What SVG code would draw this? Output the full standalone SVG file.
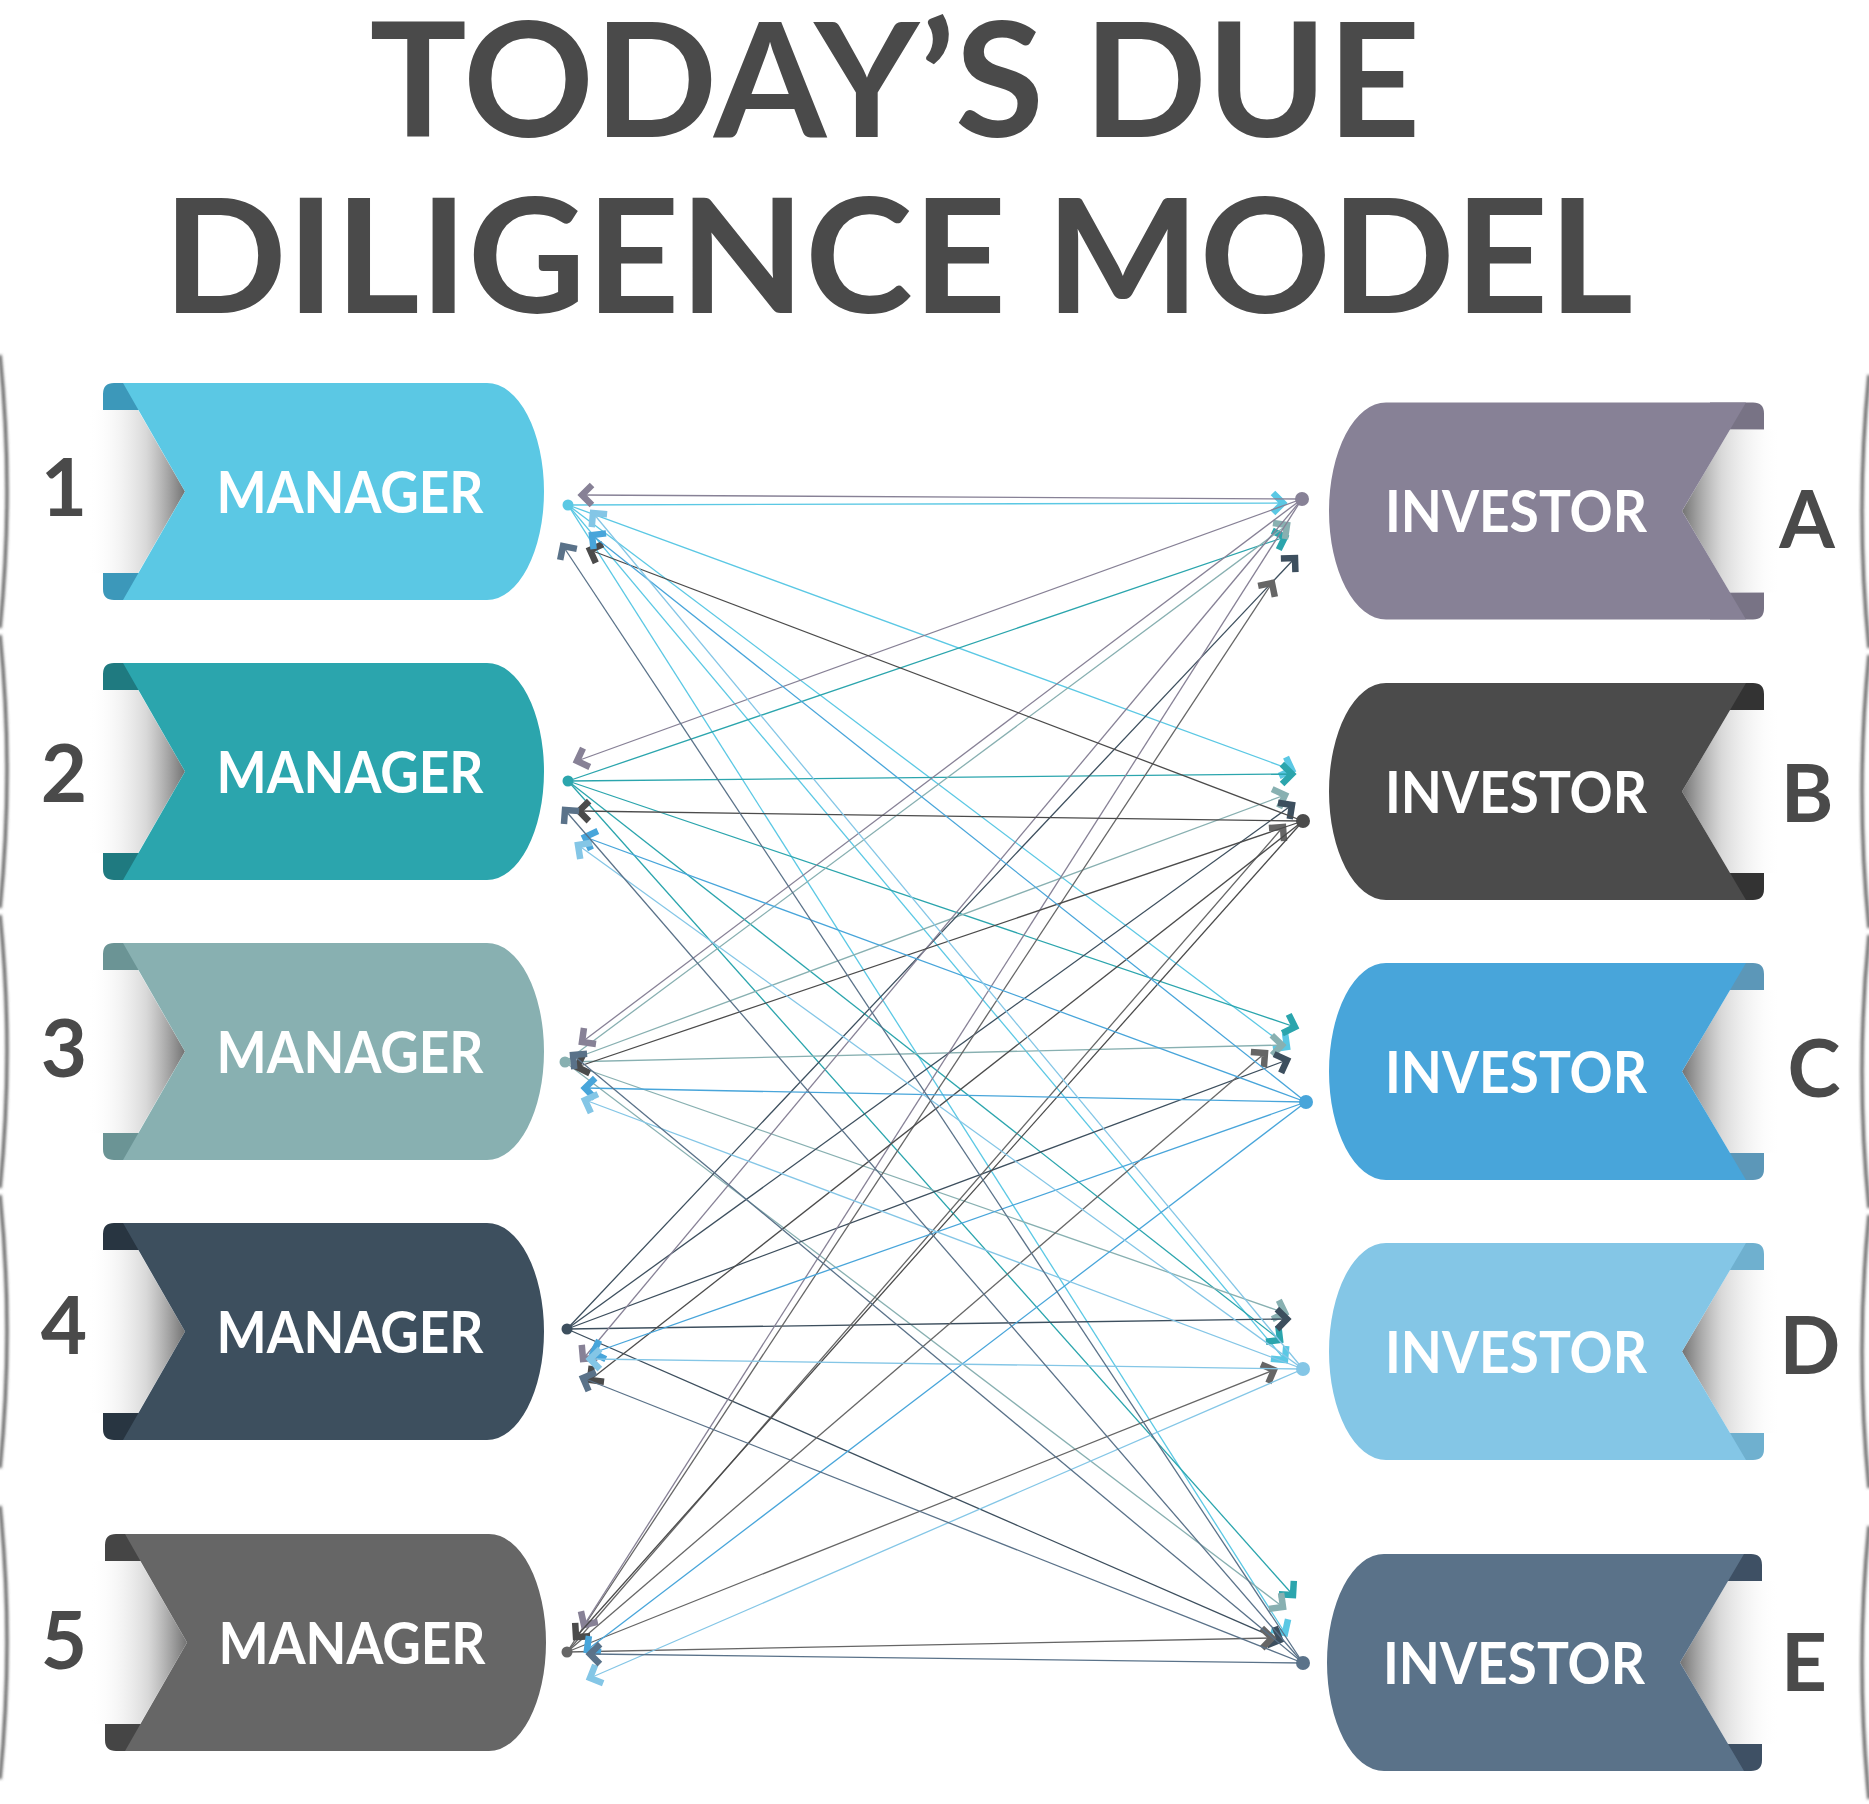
<svg xmlns="http://www.w3.org/2000/svg" width="1869" height="1804" viewBox="0 0 1869 1804">
<style>
.ttl{font-family:Lato,"Liberation Sans",sans-serif;font-weight:700;font-size:160px;fill:#4a4a4a;text-anchor:middle}
.lbl{font-family:Lato,"Liberation Sans",sans-serif;font-weight:700;font-size:80px;fill:#4a4a4a;text-anchor:middle}
.nt{font-family:Lato,"Liberation Sans",sans-serif;font-weight:700;font-size:58px;fill:#ffffff;text-anchor:middle}
.edge{fill:none;stroke:#555;stroke-width:3;filter:url(#blur)}
line{fill:none;stroke-width:1.3}
.c1{stroke:#5bc8e4;marker-end:url(#k1)}
.c2{stroke:#2ba5ad;marker-end:url(#k2)}
.c3{stroke:#88b0b1;marker-end:url(#k3)}
.c4{stroke:#3d4f5e;marker-end:url(#k4)}
.c5{stroke:#666666;marker-end:url(#k5)}
.cA{stroke:#878196;marker-end:url(#kA)}
.cB{stroke:#4b4b4b;marker-end:url(#kB)}
.cC{stroke:#48a5da;marker-end:url(#kC)}
.cD{stroke:#84c6e6;marker-end:url(#kD)}
.cE{stroke:#5a7289;marker-end:url(#kE)}
.chev{fill:none;stroke-width:6.5;stroke-linejoin:miter}
</style>
<defs>
<filter id="blur" x="-50%" y="-10%" width="200%" height="120%"><feGaussianBlur stdDeviation="1.5"/></filter>
<linearGradient id="shL" gradientUnits="userSpaceOnUse" x1="88" y1="0" x2="185" y2="0">
<stop offset="0" stop-color="#ffffff" stop-opacity="0"/>
<stop offset="0.6" stop-color="#c8c8c8" stop-opacity="0.7"/>
<stop offset="1" stop-color="#727272" stop-opacity="1"/>
</linearGradient>
<linearGradient id="shR" gradientUnits="userSpaceOnUse" x1="1781" y1="0" x2="1682" y2="0">
<stop offset="0" stop-color="#ffffff" stop-opacity="0"/>
<stop offset="0.6" stop-color="#c8c8c8" stop-opacity="0.7"/>
<stop offset="1" stop-color="#727272" stop-opacity="1"/>
</linearGradient>
<marker id="k1" markerUnits="userSpaceOnUse" orient="auto" markerWidth="40" markerHeight="40" viewBox="-20 -20 40 40" refX="0" refY="0"><path class="chev" stroke="#5bc8e4" d="M-10,-10 L0,0 L-10,10"/></marker>
<marker id="k2" markerUnits="userSpaceOnUse" orient="auto" markerWidth="40" markerHeight="40" viewBox="-20 -20 40 40" refX="0" refY="0"><path class="chev" stroke="#2ba5ad" d="M-10,-10 L0,0 L-10,10"/></marker>
<marker id="k3" markerUnits="userSpaceOnUse" orient="auto" markerWidth="40" markerHeight="40" viewBox="-20 -20 40 40" refX="0" refY="0"><path class="chev" stroke="#88b0b1" d="M-10,-10 L0,0 L-10,10"/></marker>
<marker id="k4" markerUnits="userSpaceOnUse" orient="auto" markerWidth="40" markerHeight="40" viewBox="-20 -20 40 40" refX="0" refY="0"><path class="chev" stroke="#3d4f5e" d="M-10,-10 L0,0 L-10,10"/></marker>
<marker id="k5" markerUnits="userSpaceOnUse" orient="auto" markerWidth="40" markerHeight="40" viewBox="-20 -20 40 40" refX="0" refY="0"><path class="chev" stroke="#666666" d="M-10,-10 L0,0 L-10,10"/></marker>
<marker id="kA" markerUnits="userSpaceOnUse" orient="auto" markerWidth="40" markerHeight="40" viewBox="-20 -20 40 40" refX="0" refY="0"><path class="chev" stroke="#878196" d="M-10,-10 L0,0 L-10,10"/></marker>
<marker id="kB" markerUnits="userSpaceOnUse" orient="auto" markerWidth="40" markerHeight="40" viewBox="-20 -20 40 40" refX="0" refY="0"><path class="chev" stroke="#4b4b4b" d="M-10,-10 L0,0 L-10,10"/></marker>
<marker id="kC" markerUnits="userSpaceOnUse" orient="auto" markerWidth="40" markerHeight="40" viewBox="-20 -20 40 40" refX="0" refY="0"><path class="chev" stroke="#48a5da" d="M-10,-10 L0,0 L-10,10"/></marker>
<marker id="kD" markerUnits="userSpaceOnUse" orient="auto" markerWidth="40" markerHeight="40" viewBox="-20 -20 40 40" refX="0" refY="0"><path class="chev" stroke="#84c6e6" d="M-10,-10 L0,0 L-10,10"/></marker>
<marker id="kE" markerUnits="userSpaceOnUse" orient="auto" markerWidth="40" markerHeight="40" viewBox="-20 -20 40 40" refX="0" refY="0"><path class="chev" stroke="#5a7289" d="M-10,-10 L0,0 L-10,10"/></marker>
<path id="mTabs" d="M145,-108.5 H114 Q103,-108.5 103,-97.5 V-81.5 H145 Z M145,108.5 H114 Q103,108.5 103,97.5 V81.5 H145 Z"/>
<polygon id="mShadow" points="88,-81.5 138,-81.5 185,0 138,81.5 88,81.5"/>
<path id="mBody" d="M123,-108.5 H487 A57,108.5 0 0 1 487,108.5 H123 L185,0 Z"/>
<path id="iTabs" d="M1710,-108.5 H1753 Q1764,-108.5 1764,-97.5 V-81.5 H1710 Z M1710,108.5 H1753 Q1764,108.5 1764,97.5 V81.5 H1710 Z"/>
<polygon id="iShadow" points="1781,-81.5 1730,-81.5 1682,0 1730,81.5 1781,81.5"/>
<path id="iBody" d="M1386,-108.5 H1746 L1682,0 L1746,108.5 H1386 A57,108.5 0 0 1 1386,-108.5 Z"/>
</defs>
<rect width="1869" height="1804" fill="#ffffff"/>

<g id="title">
<text class="ttl" x="895" y="137" textLength="1051" lengthAdjust="spacingAndGlyphs">TODAY’S DUE</text>
<text class="ttl" x="898" y="313" textLength="1470" lengthAdjust="spacingAndGlyphs">DILIGENCE MODEL</text>
</g>

<g id="edges">
<path class="edge" d="M0,355 Q14,491 0,628"/>
<path class="edge" d="M0,635 Q14,771 0,908"/>
<path class="edge" d="M0,915 Q14,1051 0,1188"/>
<path class="edge" d="M0,1195 Q14,1331 0,1468"/>
<path class="edge" d="M0,1506 Q14,1642 0,1779"/>
<path class="edge" d="M1869,375 Q1855,511 1869,648"/>
<path class="edge" d="M1869,655 Q1855,791 1869,928"/>
<path class="edge" d="M1869,935 Q1855,1071 1869,1208"/>
<path class="edge" d="M1869,1215 Q1855,1351 1869,1488"/>
<path class="edge" d="M1869,1526 Q1855,1662 1869,1799"/>
</g>

<g id="manager-1" transform="translate(0,491.5)">
<use href="#mTabs" fill="#3c98ba"/><use href="#mShadow" fill="url(#shL)"/><use href="#mBody" fill="#5bc8e4"/>
<text class="nt" x="350" y="21" textLength="267" lengthAdjust="spacingAndGlyphs">MANAGER</text>
<text class="lbl" x="64" y="24">1</text>
</g>
<g id="manager-2" transform="translate(0,771.5)">
<use href="#mTabs" fill="#1f7a80"/><use href="#mShadow" fill="url(#shL)"/><use href="#mBody" fill="#2ba5ad"/>
<text class="nt" x="350" y="21" textLength="267" lengthAdjust="spacingAndGlyphs">MANAGER</text>
<text class="lbl" x="64" y="30">2</text>
</g>
<g id="manager-3" transform="translate(0,1051.5)">
<use href="#mTabs" fill="#6b9495"/><use href="#mShadow" fill="url(#shL)"/><use href="#mBody" fill="#88b0b1"/>
<text class="nt" x="350" y="21" textLength="267" lengthAdjust="spacingAndGlyphs">MANAGER</text>
<text class="lbl" x="64" y="25">3</text>
</g>
<g id="manager-4" transform="translate(0,1331.5)">
<use href="#mTabs" fill="#283541"/><use href="#mShadow" fill="url(#shL)"/><use href="#mBody" fill="#3d4f5e"/>
<text class="nt" x="350" y="21" textLength="267" lengthAdjust="spacingAndGlyphs">MANAGER</text>
<text class="lbl" x="64" y="22">4</text>
</g>
<g id="manager-5" transform="translate(2,1642.5)">
<use href="#mTabs" fill="#454545"/><use href="#mShadow" fill="url(#shL)"/><use href="#mBody" fill="#666666"/>
<text class="nt" x="350" y="21" textLength="267" lengthAdjust="spacingAndGlyphs">MANAGER</text>
<text class="lbl" x="62" y="26">5</text>
</g>

<g id="investor-a" transform="translate(0,511)">
<use href="#iTabs" fill="#787385"/><use href="#iShadow" fill="url(#shR)"/><use href="#iBody" fill="#878196"/>
<text class="nt" x="1516" y="21" textLength="262" lengthAdjust="spacingAndGlyphs">INVESTOR</text>
<text class="lbl" x="1807" y="37">A</text>
</g>
<g id="investor-b" transform="translate(0,791.5)">
<use href="#iTabs" fill="#333333"/><use href="#iShadow" fill="url(#shR)"/><use href="#iBody" fill="#4b4b4b"/>
<text class="nt" x="1516" y="21" textLength="262" lengthAdjust="spacingAndGlyphs">INVESTOR</text>
<text class="lbl" x="1807" y="30">B</text>
</g>
<g id="investor-c" transform="translate(0,1071.5)">
<use href="#iTabs" fill="#5c97b8"/><use href="#iShadow" fill="url(#shR)"/><use href="#iBody" fill="#48a5da"/>
<text class="nt" x="1516" y="21" textLength="262" lengthAdjust="spacingAndGlyphs">INVESTOR</text>
<text class="lbl" x="1814" y="25">C</text>
</g>
<g id="investor-d" transform="translate(0,1351.5)">
<use href="#iTabs" fill="#6fb0cf"/><use href="#iShadow" fill="url(#shR)"/><use href="#iBody" fill="#84c6e6"/>
<text class="nt" x="1516" y="21" textLength="262" lengthAdjust="spacingAndGlyphs">INVESTOR</text>
<text class="lbl" x="1810" y="22">D</text>
</g>
<g id="investor-e" transform="translate(-2,1662.5)">
<use href="#iTabs" fill="#3e5064"/><use href="#iShadow" fill="url(#shR)"/><use href="#iBody" fill="#5a7289"/>
<text class="nt" x="1516" y="21" textLength="262" lengthAdjust="spacingAndGlyphs">INVESTOR</text>
<text class="lbl" x="1806" y="28">E</text>
</g>

<g id="connectors">
<line class="c1" x1="568" y1="505" x2="1283" y2="503"/>
<line class="c1" x1="568" y1="505" x2="1292" y2="770"/>
<line class="c1" x1="568" y1="505" x2="1287" y2="1047"/>
<line class="c1" x1="568" y1="505" x2="1285" y2="1360"/>
<line class="c1" x1="568" y1="505" x2="1285" y2="1633"/>
<line class="c2" x1="568" y1="781" x2="1285" y2="537"/>
<line class="c2" x1="568" y1="781" x2="1292" y2="774"/>
<line class="c2" x1="568" y1="781" x2="1295" y2="1027"/>
<line class="c2" x1="568" y1="781" x2="1280" y2="1340"/>
<line class="c2" x1="568" y1="781" x2="1293" y2="1595"/>
<line class="c3" x1="565" y1="1062" x2="1287" y2="525"/>
<line class="c3" x1="565" y1="1062" x2="1285" y2="795"/>
<line class="c3" x1="565" y1="1062" x2="1282" y2="1045"/>
<line class="c3" x1="565" y1="1062" x2="1285" y2="1313"/>
<line class="c3" x1="565" y1="1062" x2="1283" y2="1607"/>
<line class="c4" x1="567" y1="1329" x2="1295" y2="558"/>
<line class="c4" x1="567" y1="1329" x2="1292" y2="805"/>
<line class="c4" x1="567" y1="1329" x2="1287" y2="1060"/>
<line class="c4" x1="567" y1="1329" x2="1287" y2="1319"/>
<line class="c4" x1="567" y1="1329" x2="1280" y2="1640"/>
<line class="c5" x1="567" y1="1652" x2="1272" y2="583"/>
<line class="c5" x1="567" y1="1652" x2="1283" y2="827"/>
<line class="c5" x1="567" y1="1652" x2="1265" y2="1053"/>
<line class="c5" x1="567" y1="1652" x2="1274" y2="1370"/>
<line class="c5" x1="567" y1="1652" x2="1272" y2="1638"/>
<line class="cA" x1="1302" y1="499" x2="582" y2="495"/>
<line class="cA" x1="1302" y1="499" x2="577" y2="761"/>
<line class="cA" x1="1302" y1="499" x2="582" y2="1042"/>
<line class="cA" x1="1302" y1="499" x2="583" y2="1359"/>
<line class="cA" x1="1302" y1="499" x2="584" y2="1625"/>
<line class="cB" x1="1303" y1="821" x2="590" y2="550"/>
<line class="cB" x1="1303" y1="821" x2="579" y2="811"/>
<line class="cB" x1="1303" y1="821" x2="577" y2="1067"/>
<line class="cB" x1="1303" y1="821" x2="590" y2="1380"/>
<line class="cB" x1="1303" y1="821" x2="576" y2="1637"/>
<line class="cC" x1="1306" y1="1102" x2="592" y2="535"/>
<line class="cC" x1="1306" y1="1102" x2="585" y2="837"/>
<line class="cC" x1="1306" y1="1102" x2="585" y2="1088"/>
<line class="cC" x1="1306" y1="1102" x2="593" y2="1353"/>
<line class="cC" x1="1306" y1="1102" x2="587" y2="1650"/>
<line class="cD" x1="1303" y1="1369" x2="593" y2="513"/>
<line class="cD" x1="1303" y1="1369" x2="578" y2="845"/>
<line class="cD" x1="1303" y1="1369" x2="585" y2="1100"/>
<line class="cD" x1="1303" y1="1369" x2="590" y2="1359"/>
<line class="cD" x1="1303" y1="1369" x2="590" y2="1678"/>
<line class="cE" x1="1303" y1="1663" x2="563" y2="546"/>
<line class="cE" x1="1303" y1="1663" x2="565" y2="810"/>
<line class="cE" x1="1303" y1="1663" x2="573" y2="1055"/>
<line class="cE" x1="1303" y1="1663" x2="583" y2="1378"/>
<line class="cE" x1="1303" y1="1663" x2="590" y2="1654"/>
<g id="ports">
<circle cx="568" cy="505" r="5.5" fill="#5bc8e4"/>
<circle cx="568" cy="781" r="5.5" fill="#2ba5ad"/>
<circle cx="565" cy="1062" r="5.5" fill="#88b0b1"/>
<circle cx="567" cy="1329" r="5.5" fill="#3d4f5e"/>
<circle cx="567" cy="1652" r="5.5" fill="#666666"/>
<circle cx="1302" cy="499" r="7" fill="#878196"/>
<circle cx="1303" cy="821" r="7" fill="#4b4b4b"/>
<circle cx="1306" cy="1102" r="7" fill="#48a5da"/>
<circle cx="1303" cy="1369" r="7" fill="#84c6e6"/>
<circle cx="1303" cy="1663" r="7" fill="#5a7289"/>
</g>
</g>
</svg>
